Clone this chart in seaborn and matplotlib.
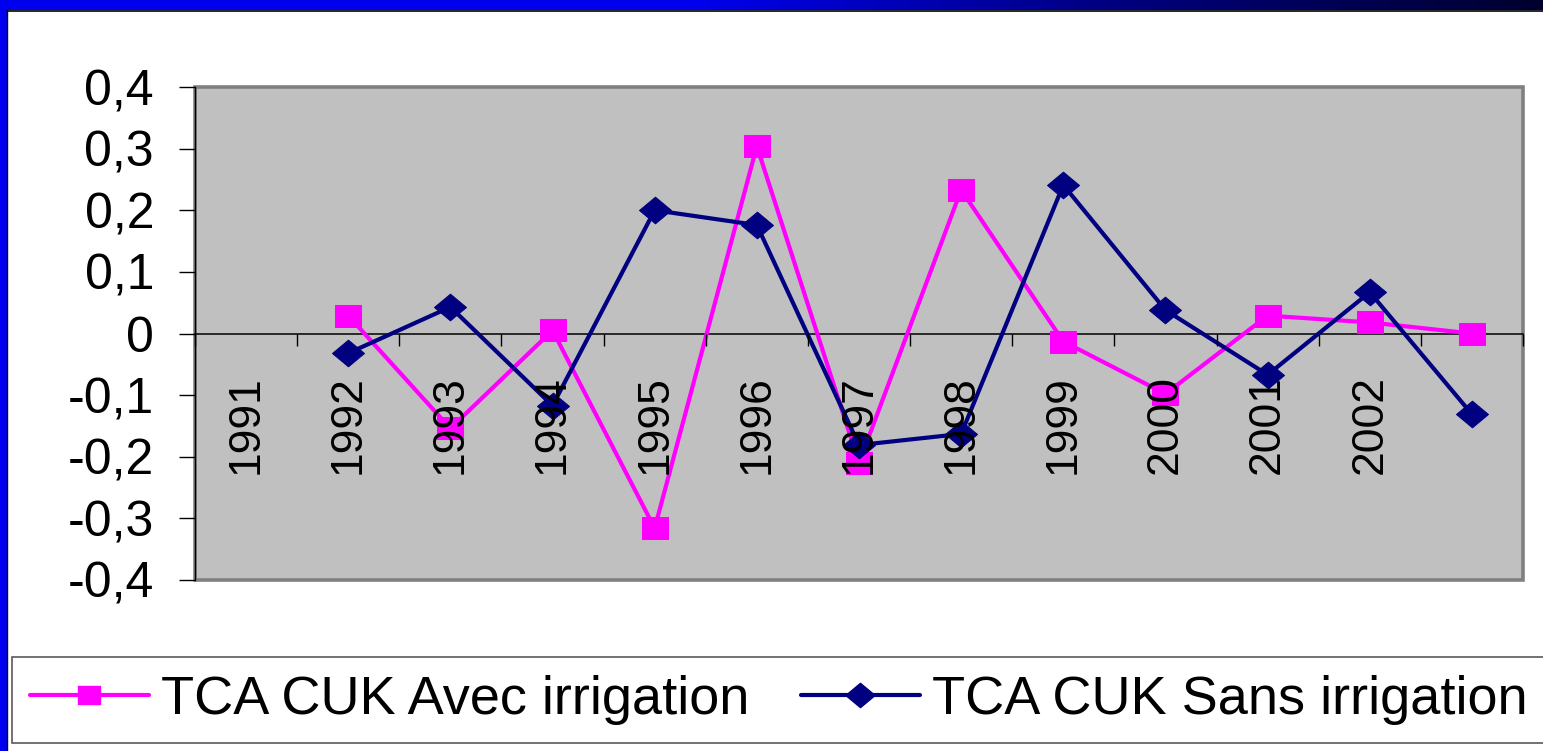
import numpy as np
import pandas as pd
import matplotlib
matplotlib.use("Agg")
import matplotlib.pyplot as plt
import seaborn as sns
from matplotlib.path import Path
from matplotlib.patches import Rectangle
from matplotlib.lines import Line2D

# ---------------- data ----------------
years = ["1991", "1992", "1993", "1994", "1995", "1996", "1997",
         "1998", "1999", "2000", "2001", "2002", "2003"]
x_tick_labels = ["1991", "1992", "1993", "1994", "1995", "1996", "1997",
                 "1998", "1999", "2000", "2001", "2002", ""]
avec_irrigation = [np.nan, 0.029, -0.154, 0.005, -0.316, 0.304, -0.210,
                   0.233, -0.013, -0.098, 0.029, 0.018, 0.000]
sans_irrigation = [np.nan, -0.032, 0.043, -0.117, 0.200, 0.176, -0.181,
                   -0.163, 0.241, 0.038, -0.067, 0.067, -0.131]
series_names = ["TCA CUK Avec irrigation", "TCA CUK Sans irrigation"]
y_ticks = [-0.4, -0.3, -0.2, -0.1, 0.0, 0.1, 0.2, 0.3, 0.4]
y_tick_labels = ["-0,4", "-0,3", "-0,2", "-0,1", "0", "0,1", "0,2", "0,3", "0,4"]

PINK = "#FF00FF"
NAVY = "#000080"

sns.set_theme(style="white")
plt.rcParams["font.family"] = ["Liberation Sans", "DejaVu Sans"]
plt.rcParams["text.color"] = "black"
plt.rcParams["xtick.color"] = "black"
plt.rcParams["ytick.color"] = "black"

W, H = 1543, 751
fig = plt.figure(figsize=(W / 100, H / 100), dpi=100)
fig.patch.set_facecolor("white")

# ---------------- slide frame ----------------
top_h = 10
bar_ax = fig.add_axes([0, 1 - top_h / H, 1, top_h / H])
grad = np.zeros((1, 400, 3))
t = np.linspace(0, 1, 400)
blue_start = np.array([0.0, 0.0, 0.93])
mid = np.array([0.0, 0.0, 0.50])
dark = np.array([0.0, 0.0, 0.18])
for i, v in enumerate(t):
    if v < 0.45:
        c = blue_start
    elif v < 0.72:
        f = (v - 0.45) / 0.27
        c = blue_start * (1 - f) + mid * f
    else:
        f = (v - 0.72) / 0.28
        c = mid * (1 - f) + dark * f
    grad[0, i] = c
bar_ax.imshow(grad, aspect="auto", extent=[0, 1, 0, 1])
bar_ax.set_axis_off()

fig.patches.append(Rectangle((0, 0), 7 / W, 1, transform=fig.transFigure,
                             facecolor="#0000EE", edgecolor="none", zorder=0))
fig.lines.append(Line2D([7.5 / W, 7.5 / W], [0, 1 - top_h / H], transform=fig.transFigure,
                        color="black", lw=1.0))
fig.lines.append(Line2D([7.5 / W, 1], [1 - (top_h + 0.5) / H, 1 - (top_h + 0.5) / H],
                        transform=fig.transFigure, color="black", lw=1.2))

# ---------------- plot area ----------------
left, right, top, bottom = 195, 1523, 87, 580
ax = fig.add_axes([left / W, 1 - bottom / H, (right - left) / W, (bottom - top) / H])
ax.set_facecolor("#C0C0C0")
ax.patch.set_edgecolor("#808080")
ax.patch.set_linewidth(2.6)

x_pos = np.arange(len(years))
df = pd.DataFrame({
    "x": np.concatenate([x_pos, x_pos]),
    "value": avec_irrigation + sans_irrigation,
    "serie": [series_names[0]] * len(years) + [series_names[1]] * len(years),
})

sq = Path([(-0.6, -0.5), (0.6, -0.5), (0.6, 0.5), (-0.6, 0.5), (-0.6, -0.5)],
          [Path.MOVETO, Path.LINETO, Path.LINETO, Path.LINETO, Path.CLOSEPOLY])
dm = Path([(0, -0.5), (0.6, 0), (0, 0.5), (-0.6, 0), (0, -0.5)],
          [Path.MOVETO, Path.LINETO, Path.LINETO, Path.LINETO, Path.CLOSEPOLY])

d1 = df[df["serie"] == series_names[0]].dropna()
d2 = df[df["serie"] == series_names[1]].dropna()
sns.lineplot(data=d1, x="x", y="value", ax=ax, color=PINK, lw=3.0,
             marker=sq, markersize=19, markeredgecolor=PINK, markerfacecolor=PINK,
             label=series_names[0], zorder=3)
sns.lineplot(data=d2, x="x", y="value", ax=ax, color=NAVY, lw=3.0,
             marker=dm, markersize=23, markeredgecolor=NAVY, markerfacecolor=NAVY,
             label=series_names[1], zorder=3)

ax.set_xlim(-0.5, len(years) - 0.5)
ax.set_ylim(-0.4, 0.4)
ax.set_xlabel("")
ax.set_ylabel("")

# y axis
ax.set_yticks(y_ticks)
ax.set_yticklabels(y_tick_labels)
ax.tick_params(axis="y", direction="out", length=11.5, width=1.0, color="black",
               pad=18, labelsize=36, labelcolor="black", left=True)
ax.spines["left"].set_color("black")
ax.spines["left"].set_linewidth(1.0)
ax.spines["left"].set_zorder(4)

# x axis through zero
ax.spines["bottom"].set_position(("data", 0))
ax.spines["bottom"].set_color("black")
ax.spines["bottom"].set_linewidth(1.1)
ax.spines["top"].set_visible(False)
ax.spines["right"].set_visible(False)

ax.set_xticks(np.arange(-0.5, len(years), 1.0))
ax.set_xticklabels([])
ax.set_xticks(x_pos, minor=True)
ax.set_xticklabels(x_tick_labels, minor=True, rotation=90)
ax.tick_params(axis="x", which="major", direction="out", length=8.6, width=1.0,
               color="black", bottom=True)
ax.tick_params(axis="x", which="minor", length=0, pad=30, labelsize=32,
               labelcolor="black", bottom=True)
ax.xaxis.set_zorder(5)

ax.get_legend().remove()

# ---------------- legend ----------------
handles = [
    Line2D([0], [0], color=PINK, lw=3.0, marker=sq, markersize=16,
           markerfacecolor=PINK, markeredgecolor=PINK),
    Line2D([0], [0], color=NAVY, lw=3.0, marker=dm, markersize=21,
           markerfacecolor=NAVY, markeredgecolor=NAVY),
]
leg = fig.legend(handles, series_names, loc="lower left",
                 bbox_to_anchor=(12 / W, 8 / H), ncol=2, fontsize=39,
                 frameon=True, fancybox=False, shadow=False,
                 handlelength=2.2, handletextpad=0.22, columnspacing=0.95,
                 borderpad=0.33, borderaxespad=0, labelcolor="black")
leg.get_frame().set_edgecolor("#303030")
leg.get_frame().set_linewidth(1.2)
leg.get_frame().set_facecolor("white")

fig.savefig("out.png", dpi=100)
